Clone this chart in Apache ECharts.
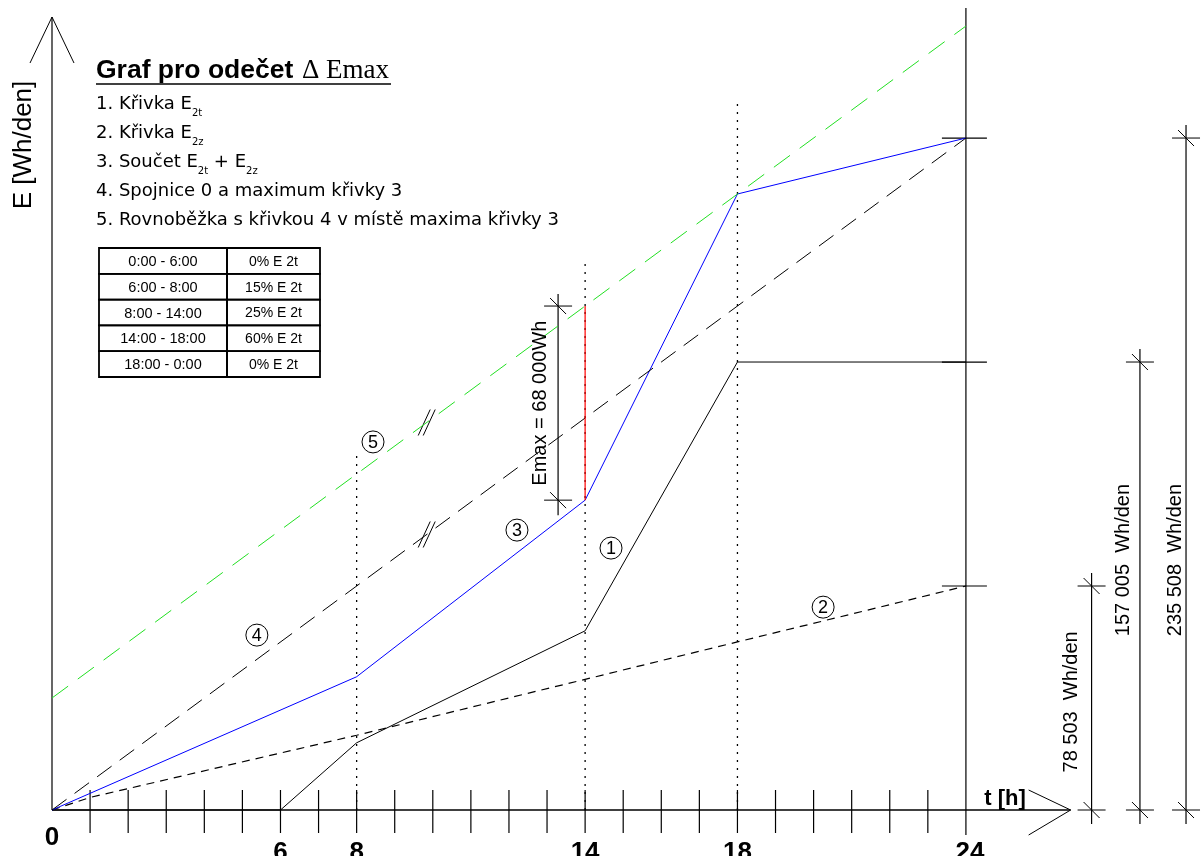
<!DOCTYPE html>
<html>
<head>
<meta charset="utf-8">
<title>Graf pro odečet Δ Emax</title>
<script src="https://cdn.jsdelivr.net/npm/echarts@6/dist/echarts.min.js"></script>
<style>
  html, body { margin: 0; padding: 0; background: #fff; }
  #chart { width: 1203px; height: 856px; }
</style>
</head>
<body>
<div id="chart"></div>
<script>
// --- data (hours, Wh/den) ---
const e2tHours = [0, 6, 8, 14, 18, 24];
const e2tValues = [0, 0, 23550, 62800, 157005, 157005];
const e2zHours = [0, 1, 8, 14, 18, 24];
const e2zValues = [0, 4400, 26200, 45800, 58900, 78503];
const sumHours = [0, 8, 14, 18, 24];
const sumValues = [0, 46700, 108600, 215900, 235508];
const chordHours = [0, 24];
const chordValues = [0, 235508];
const parallelHours = [0, 24];
const parallelValues = [39250, 274760];
const emaxHour = 14;
const guideHours = [8, 14, 18];
const guideTops = [125500, 191700, 248800];
const hourTicks = [1, 2, 3, 4, 5, 6, 7, 8, 9, 10, 11, 12, 13, 14, 15, 16, 17, 18, 19, 20, 21, 22, 23];
const hourLabels = [0, 6, 8, 14, 18, 24];
const dimValues = [78503, 157005, 235508];
const dimLabels = ['78 503  Wh/den', '157 005  Wh/den', '235 508  Wh/den'];
const emaxLabel = 'Emax = 68 000Wh';
const tableRanges = ['0:00 - 6:00', '6:00 - 8:00', '8:00 - 14:00', '14:00 - 18:00', '18:00 - 0:00'];
const tableShares = ['0% E 2t', '15% E 2t', '25% E 2t', '60% E 2t', '0% E 2t'];
const legendItems = [
    '1. Křivka E{s|2t}',
    '2. Křivka E{s|2z}',
    '3. Součet E{s|2t} + E{s|2z}',
    '4. Spojnice 0 a maximum křivky 3',
    '5. Rovnoběžka s křivkou 4 v místě maxima křivky 3'
];

// --- layout (where annotations sit) ---
const dimHours = [27.3, 28.57, 29.78];
const dimLabelAt = [37900, 87600, 87600];
const dimLabelDx = [-20, -16, -11];
const emaxDimHour = 13.29;
const parallelMarkHour = 9.84;
const curveTags = [
    { n: '1', h: 14.68, v: 91800 },
    { n: '2', h: 20.25, v: 71100 },
    { n: '3', h: 12.21, v: 98100 },
    { n: '4', h: 5.38, v: 61300 },
    { n: '5', h: 8.43, v: 129000 }
];

const chart = echarts.init(document.getElementById('chart'));

function pairs(hs, vs) { return hs.map((h, i) => [h, vs[i]]); }

function valueAt(hs, vs, h) {
    for (let i = 1; i < hs.length; i++) {
        if (h <= hs[i]) {
            const t = (h - hs[i - 1]) / (hs[i] - hs[i - 1]);
            return vs[i - 1] + t * (vs[i] - vs[i - 1]);
        }
    }
    return vs[vs.length - 1];
}

const emaxLow = valueAt(sumHours, sumValues, emaxHour);
const emaxHigh = valueAt(parallelHours, parallelValues, emaxHour);

function lineSeries(name, data, color, width, dash) {
    return {
        name, type: 'line', data, symbol: 'none', clip: false, silent: true,
        lineStyle: { color, width, type: dash || 'solid' },
        z: 3
    };
}

chart.setOption({
    animation: false,
    backgroundColor: '#fff',
    grid: { left: 52, right: 8.6, top: 11.1, bottom: 46 },
    xAxis: { type: 'value', min: 0, max: 30, show: false },
    yAxis: { type: 'value', min: 0, max: 280000, show: false },
    series: [
        lineSeries('E2t', pairs(e2tHours, e2tValues), '#000', 1),
        lineSeries('E2z', pairs(e2zHours, e2zValues), '#000', 1.2, [8, 6]),
        lineSeries('Součet', pairs(sumHours, sumValues), '#0000ff', 1),
        lineSeries('Spojnice', pairs(chordHours, chordValues), '#000', 1, [18, 10]),
        lineSeries('Rovnoběžka', pairs(parallelHours, parallelValues), '#22e022', 1, [20, 12]),
        lineSeries('Emax', [[emaxHour, emaxLow], [emaxHour, emaxHigh]], '#ff0000', 1.2)
    ]
});

function P(h, v) { return chart.convertToPixel({ gridIndex: 0 }, [h, v]); }

function seg(x1, y1, x2, y2, style) {
    return {
        type: 'line', silent: true, z: 2,
        shape: { x1, y1, x2, y2 },
        style: Object.assign({ stroke: '#000', lineWidth: 1 }, style || {})
    };
}

function txt(x, y, text, st, rotation) {
    const style = Object.assign({
        text, fill: '#000', fontFamily: 'Liberation Sans', fontSize: 16,
        textAlign: 'left', textVerticalAlign: 'middle'
    }, st || {});
    style.align = style.textAlign;
    style.verticalAlign = style.textVerticalAlign;
    return { type: 'text', x, y, rotation: rotation || 0, silent: true, z: 4, style };
}

// dimension end: horizontal stroke plus a slash
function dimEnd(x, y, half) {
    return [seg(x - half, y, x + half, y), seg(x - 8, y - 8, x + 8, y + 8)];
}

const els = [];
const O = P(0, 0);

// y axis with open arrow
els.push(seg(O[0], O[1], O[0], 17, { lineWidth: 1.2 }));
els.push(seg(O[0] - 22, 63, O[0], 17, { lineWidth: 1 }), seg(O[0] + 22, 63, O[0], 17, { lineWidth: 1 }));

// x axis with open arrow
const xEnd = P(26.75, 0)[0];
els.push(seg(O[0], O[1], xEnd, O[1], { lineWidth: 1.5 }));
els.push(seg(xEnd - 42, O[1] - 20, xEnd, O[1], { lineWidth: 1 }), seg(xEnd - 42, O[1] + 25, xEnd, O[1], { lineWidth: 1 }));

// hour ticks
hourTicks.forEach(h => {
    const p = P(h, 0);
    els.push(seg(p[0], p[1] - 20, p[0], p[1] + 23, { lineWidth: 1.2 }));
});

// vertical line at 24 h
const x24 = P(24, 0)[0];
els.push(seg(x24, O[1] + 25, x24, 8, { lineWidth: 1.2 }));

// dotted guides
guideHours.forEach((h, i) => {
    const top = P(h, guideTops[i]);
    els.push(seg(top[0], O[1], top[0], top[1], { lineDash: [2, 6], lineWidth: 1.3 }));
});

// level marks at 24 h and dimension lines on the right
dimValues.forEach((v, i) => {
    const p = P(24, v);
    els.push(seg(p[0] - 24, p[1], p[0] + 21, p[1], { lineWidth: 1.2 }));
    const x = P(dimHours[i], 0)[0];
    els.push(seg(x, p[1] - 13, x, O[1] + 14, { lineWidth: 1.2 }));
    els.push(...dimEnd(x, p[1], 14), ...dimEnd(x, O[1], 14));
    const ly = P(0, dimLabelAt[i])[1];
    els.push(txt(x + dimLabelDx[i], ly, dimLabels[i], { fontSize: 20, textAlign: 'center' }, Math.PI / 2));
});

// Emax dimension
const eLo = P(emaxDimHour, emaxLow), eHi = P(emaxDimHour, emaxHigh);
els.push(seg(eLo[0], eHi[1] - 12, eLo[0], eLo[1] + 15, { lineWidth: 1.2 }));
els.push(...dimEnd(eLo[0], eHi[1], 14), ...dimEnd(eLo[0], eLo[1], 14));
els.push(txt(eLo[0] - 18, (eLo[1] + eHi[1]) / 2, emaxLabel, { fontSize: 20, textAlign: 'center' }, Math.PI / 2));

// parallel marks "//"
[[chordHours, chordValues], [parallelHours, parallelValues]].forEach(([hs, vs]) => {
    const p = P(parallelMarkHour, valueAt(hs, vs, parallelMarkHour));
    [-2.5, 2.5].forEach(dx => {
        els.push(seg(p[0] + dx - 6, p[1] + 13, p[0] + dx + 6, p[1] - 13, { lineWidth: 1 }));
    });
});

// circled curve numbers
curveTags.forEach(t => {
    const p = P(t.h, t.v);
    els.push({ type: 'circle', silent: true, z: 4, shape: { cx: p[0], cy: p[1], r: 11 }, style: { fill: '#fff', stroke: '#000', lineWidth: 1 } });
    els.push(txt(p[0], p[1] + 1, t.n, { fontSize: 18, textAlign: 'center' }));
});

// hour labels
hourLabels.forEach(h => {
    const p = P(h, 0);
    els.push(txt(p[0] + (h === 24 ? 4 : 0), h === 0 ? 825 : 840, String(h),
        { fontSize: 26, fontWeight: 'bold', textAlign: 'center', textVerticalAlign: 'top' }));
});

els.push(txt(1005, 799, 't [h]', { fontSize: 22, fontWeight: 'bold', textAlign: 'center' }));
els.push(txt(24, 145, 'E [Wh/den]', { fontSize: 26, textAlign: 'center' }, Math.PI / 2));

// title
els.push(txt(96, 71, 'Graf pro odečet', { fontSize: 26.5, fontWeight: 'bold' }));
els.push(txt(302, 71, 'Δ Emax', { fontSize: 27, fontFamily: 'Liberation Serif' }));
els.push(seg(96, 84, 391, 84, { lineWidth: 1.6 }));

// legend list
legendItems.forEach((s, i) => {
    els.push(txt(96, 104 + i * 29.2, s, {
        fontFamily: 'DejaVu Sans', fontSize: 18,
        rich: { s: { fontFamily: 'DejaVu Sans', fontSize: 10, lineHeight: 10, verticalAlign: 'bottom' } },
        lineHeight: 28
    }));
});

// table
const tx0 = 99, tx1 = 227, tx2 = 320, ty0 = 248, rowH = 25.8;
tableRanges.forEach((r, i) => {
    const y = ty0 + i * rowH;
    els.push({ type: 'rect', silent: true, z: 2, shape: { x: tx0, y, width: tx1 - tx0, height: rowH }, style: { fill: 'none', stroke: '#000', lineWidth: 1.8 } });
    els.push({ type: 'rect', silent: true, z: 2, shape: { x: tx1, y, width: tx2 - tx1, height: rowH }, style: { fill: 'none', stroke: '#000', lineWidth: 1.8 } });
    els.push(txt((tx0 + tx1) / 2, y + rowH / 2 + 1, r, { fontSize: 14.5, textAlign: 'center' }));
    els.push(txt((tx1 + tx2) / 2, y + rowH / 2 + 1, tableShares[i], { fontSize: 14, textAlign: 'center' }));
});

chart.setOption({ graphic: { elements: els } });
</script>
</body>
</html>
